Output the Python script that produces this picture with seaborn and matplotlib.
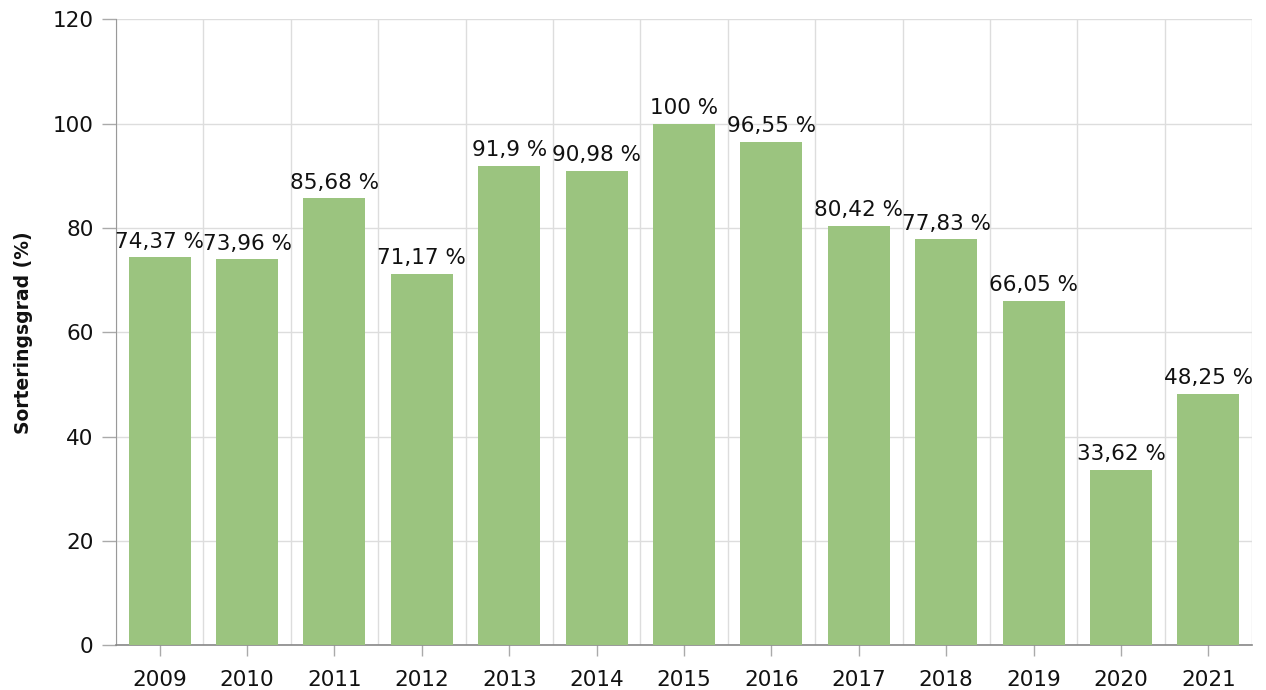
import numpy as np
import pandas as pd
import seaborn as sns
import matplotlib.pyplot as plt
from matplotlib.ticker import FixedLocator

years = ['2009', '2010', '2011', '2012', '2013', '2014', '2015',
         '2016', '2017', '2018', '2019', '2020', '2021']
values = [74.37, 73.96, 85.68, 71.17, 91.9, 90.98, 100.0,
          96.55, 80.42, 77.83, 66.05, 33.62, 48.25]
labels = ['74,37 %', '73,96 %', '85,68 %', '71,17 %', '91,9 %', '90,98 %', '100 %',
          '96,55 %', '80,42 %', '77,83 %', '66,05 %', '33,62 %', '48,25 %']

df = pd.DataFrame({'year': years, 'value': values})

sns.set_style('white')
plt.rcParams['font.family'] = ['DejaVu Sans']

fig, ax = plt.subplots(figsize=(12.66, 6.9), dpi=100)
fig.subplots_adjust(left=0.0916, right=0.989, top=0.972, bottom=0.065)

sns.barplot(data=df, x='year', y='value', color='#9bc47f', saturation=1,
            width=0.71, ax=ax, zorder=3, edgecolor='none', linewidth=0)

# value labels above bars
for i, (v, lab) in enumerate(zip(values, labels)):
    ax.annotate(lab, (i, v), xytext=(0, 4), textcoords='offset points',
                ha='center', va='bottom', fontsize=15.5, color='#111111', zorder=4)

ax.set_xlim(-0.5, len(years) - 0.5)
ax.set_ylim(0, 120)
ax.set_yticks(np.arange(0, 121, 20))
ax.xaxis.set_minor_locator(FixedLocator(np.arange(-0.5, len(years), 1)))

ax.grid(axis='y', which='major', color='#dddddd', linewidth=1, zorder=0)
ax.grid(axis='x', which='minor', color='#dddddd', linewidth=1, zorder=0)
ax.grid(axis='x', which='major', visible=False)
ax.set_axisbelow(True)

for side in ['top', 'right']:
    ax.spines[side].set_visible(False)
ax.spines['left'].set_color('#999999')
ax.spines['bottom'].set_color('#888888')
ax.spines['bottom'].set_linewidth(1.2)

ax.tick_params(axis='x', which='major', bottom=True, length=8, color='#aaaaaa', width=1,
               labelsize=15.5, labelcolor='#111111', pad=10)
ax.tick_params(axis='x', which='minor', bottom=False, length=0)
ax.tick_params(axis='y', left=True, length=10, color='#aaaaaa', width=1,
               labelsize=15.5, labelcolor='#111111', pad=6)

ax.set_xlabel('')
ax.set_ylabel('Sorteringsgrad (%)', fontsize=13.5, fontweight='bold',
              color='#111111', labelpad=14)

fig.savefig('out.png', dpi=100)
